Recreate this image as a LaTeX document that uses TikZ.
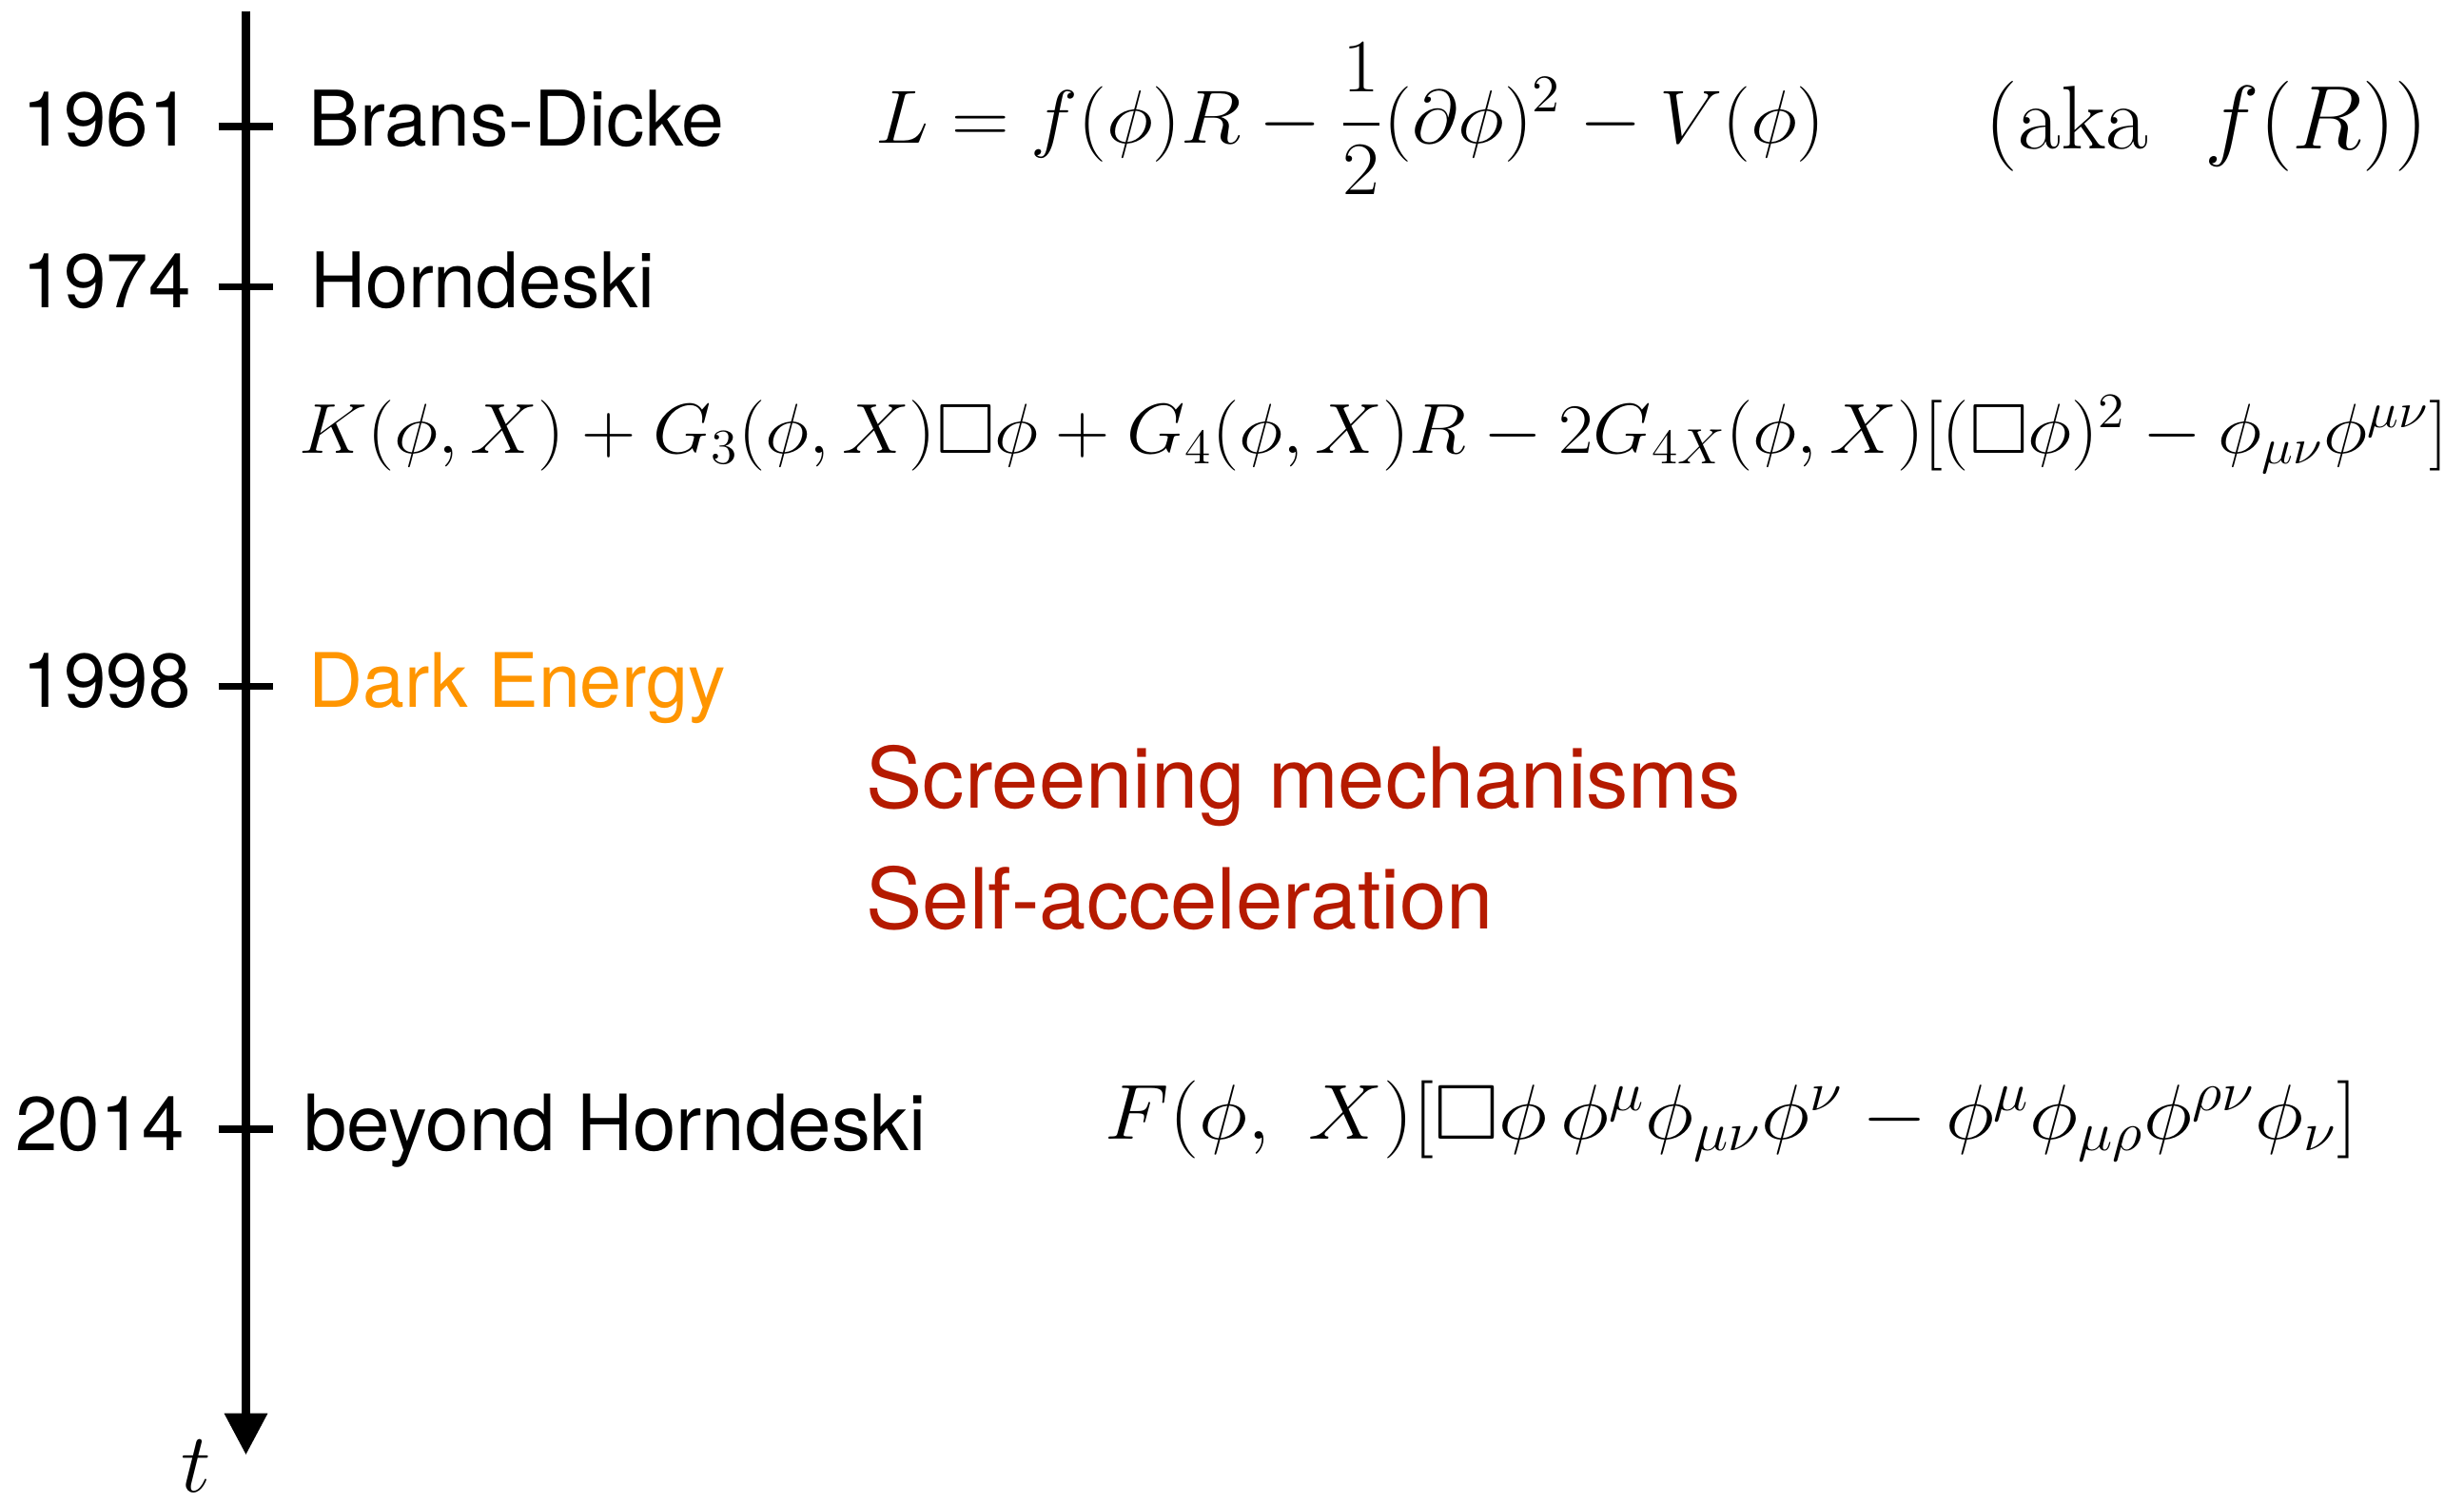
\RequirePackage{fix-cm}
\documentclass[tikz,border=0pt]{standalone}
\usepackage{amsmath,amssymb}
\usepackage{graphicx}
\usepackage{fontspec}
\newfontfamily\hv{TeX Gyre Heros}
\usetikzlibrary{arrows.meta}
\definecolor{deorange}{RGB}{255,149,0}
\definecolor{scrred}{RGB}{181,26,0}
\tikzset{
  lbl/.style={anchor=base west, inner sep=0pt, font=\hv\fontsize{24.4}{29}\selectfont},
  redlbl/.style={lbl, text=scrred, font=\hv\fontsize{26.8}{31}\selectfont},
  yr/.style={anchor=base east, inner sep=0pt, font=\hv\fontsize{24.2}{29}\selectfont},
  eqn/.style={anchor=base west, inner sep=0pt},
  axisline/.style={line width=3pt, -{Triangle[length=13.3pt,width=13pt]}},
  tickline/.style={line width=2.2pt},
}
\begin{document}
\begin{tikzpicture}[x=0.5pt,y=-0.5pt]
\useasboundingbox (0,0) rectangle (1568,957);
% axis
\coordinate (top) at (156.5,7);
\coordinate (bot) at (156.5,926);
\draw[axisline] (top) -- (bot);
\node[inner sep=0pt, font=\fontsize{26.8}{30}\selectfont] (t) at (125,933) {$t$};
% ticks
\foreach \n/\y in {a/80.5,b/182.6,c/437,d/718.6}{
  \coordinate (\n L) at (139,\y);
  \coordinate (\n R) at (174,\y);
  \draw[tickline] (\n L) -- (\n R);
}
% years
\node[yr] (y1961) at (122,93) {1961};
\node[yr] (y1974) at (122,196) {1974};
\node[yr] (y1998) at (122,450) {1998};
\node[yr] (y2014) at (118,732.5) {2014};
% labels
\node[lbl] (bd) at (196,93) {Brans-Dicke};
\node[lbl] (hd) at (197,196) {Horndeski};
\node[lbl, text=deorange, font=\hv\fontsize{23.9}{29}\selectfont] (de) at (196,450) {Dark Energy};
\node[lbl, font=\hv\fontsize{24.7}{29}\selectfont] (bh) at (193,732.5) {beyond Horndeski};
\node[redlbl] (scr) at (551,514.5) {Screening mechanisms};
\node[redlbl] (sa) at (551,591) {Self-acceleration};
% equations
\node[eqn, font=\fontsize{24}{29}\selectfont] (bdeq) at (557,91) {\scalebox{1.06}[1]{$\displaystyle L = f(\phi)R - \frac{1}{2}(\partial\phi)^2 - V(\phi)$}};
\node[eqn, font=\fontsize{28.7}{34}\selectfont] (aka) at (1263,95) {\scalebox{1.03}[1]{$(\mathrm{aka}\ \ f(R))$}};
\node[eqn, font=\fontsize{22.5}{27}\selectfont] (hdeq) at (190,288.6) {\scalebox{1.067}[1]{$K(\phi,X) + G_3(\phi,X)\Box\phi + G_4(\phi,X)R - 2G_{4X}(\phi,X)[(\Box\phi)^2 - \phi_{\mu\nu}\phi^{\mu\nu}]$}};
\node[eqn, font=\fontsize{24.8}{29}\selectfont] (feq) at (703,725) {\scalebox{1.07}[1]{$F(\phi,\ X)[\Box\phi\,\phi^\mu\phi_{\mu\nu}\phi^\nu - \phi^\mu\phi_{\mu\rho}\phi^{\rho\nu}\phi_\nu]$}};
\end{tikzpicture}
\end{document}
